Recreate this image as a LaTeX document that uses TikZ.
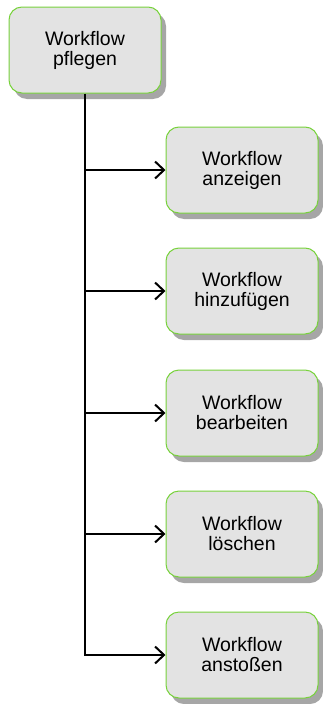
\documentclass[tikz,border=0pt]{standalone}
\usepackage{fontspec}
\setmainfont{Liberation Sans}
\usetikzlibrary{arrows.meta,shadows}
\definecolor{boxgreen}{HTML}{78D23C}
\definecolor{boxfill}{HTML}{E3E3E3}
\definecolor{shadowgray}{HTML}{A6A6A6}
\begin{document}
\begin{tikzpicture}[x=1pt,y=-1pt,
  task/.style={draw=boxgreen, line width=1pt, fill=boxfill,
    rounded corners=13pt, minimum width=152pt, minimum height=86pt,
    inner sep=0pt, align=center, font=\fontsize{19.5}{20}\selectfont,
    drop shadow={shadow xshift=5pt, shadow yshift=-6pt, fill=shadowgray, opacity=1}},
  link/.style={line width=2pt, -{Straight Barb[length=9pt,width=17pt]}}]
  \useasboundingbox (0,0) rectangle (322,704);

  % parent task and its sub-tasks
  \node[task] (root) at (85,50)  {Workflow\\pflegen};
  \node[task] (c1)   at (242,170) {Workflow\\anzeigen};
  \node[task] (c2)   at (242,291) {Workflow\\hinzufügen};
  \node[task] (c3)   at (242,413) {Workflow\\bearbeiten};
  \node[task] (c4)   at (242,534) {Workflow\\löschen};
  \node[task] (c5)   at (242,655) {Workflow\\anstoßen};

  % trunk with the last branch, then the other branches
  \draw[link] (root.south) |- (c5.west);
  \foreach \c in {c1,c2,c3,c4}
    \draw[link] (root.south |- \c.west) -- (\c.west);
\end{tikzpicture}
\end{document}
